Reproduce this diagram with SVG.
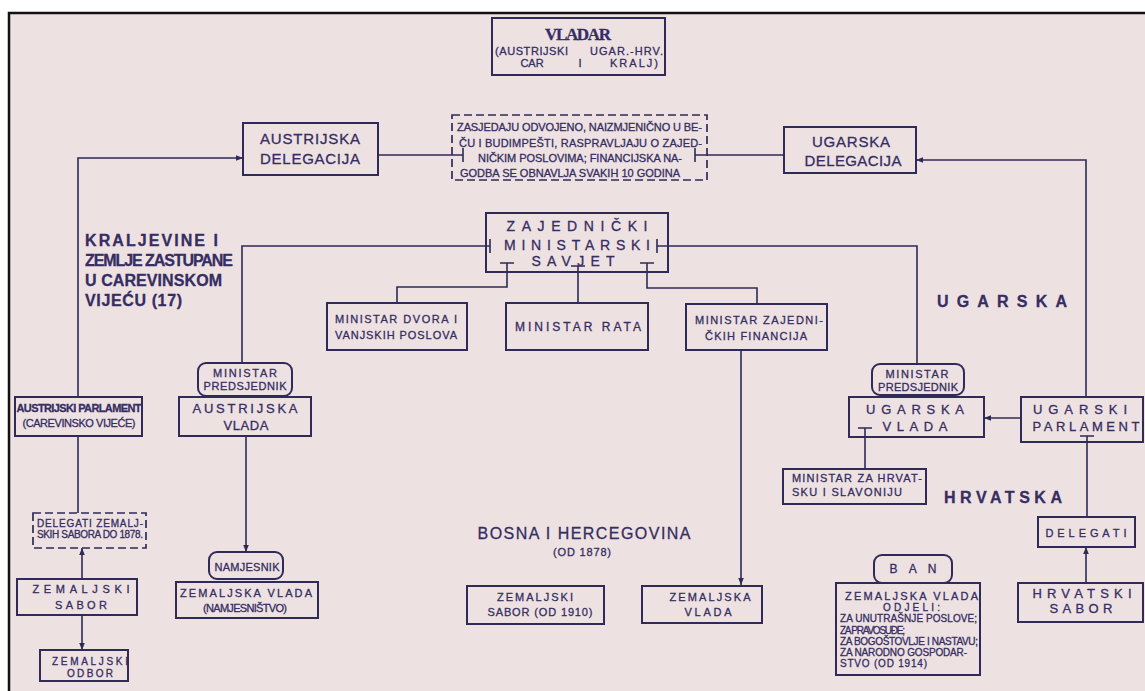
<svg xmlns="http://www.w3.org/2000/svg" width="1145" height="691" viewBox="0 0 1145 691">
<defs>
<marker id="ah" viewBox="0 0 10 10" refX="10" refY="5" markerWidth="7" markerHeight="7" orient="auto" markerUnits="userSpaceOnUse">
<path d="M0,1 L10,5 L0,9 Z" fill="#2f2a58"/>
</marker>
<style>
.bx{fill:none;stroke:#2f2a58;stroke-width:2}
.ds{fill:none;stroke:#2f2a58;stroke-width:1.7;stroke-dasharray:8 4}
.ln{fill:none;stroke:#2f2a58;stroke-width:1.6}
.ar{fill:none;stroke:#2f2a58;stroke-width:1.6;marker-end:url(#ah)}
text{font-family:"Liberation Sans","DejaVu Sans",sans-serif;fill:#352d63;stroke:#352d63;stroke-width:0.3;font-size:11px}
.c{text-anchor:middle}
.b15{font-size:15px}
.b13{font-size:13px}
.t10{font-size:10px}
.lbl{font-size:16px;font-weight:bold}
</style>
</defs>
<rect x="0" y="0" width="1145" height="691" fill="#ffffff"/>
<rect x="9" y="13" width="1136" height="678" fill="#ede2e1"/>
<path d="M9,691 V13 H1145" fill="none" stroke="#111" stroke-width="2.5"/>

<g id="connectors">
<path class="ar" d="M78,396 V158 H243"/>
<path class="ln" d="M378,155 H463 M463,148 V162"/>
<path class="ln" d="M695,155 H784 M695,148 V162"/>
<path class="ar" d="M1086,397 V160 H916"/>
<path class="ln" d="M490,246 H242 V363 M490,239 V253"/>
<path class="ln" d="M657,246 H917 V364 M657,239 V253"/>
<path class="ln" d="M507,263 V287 H397 V303 M500,263 H514"/>
<path class="ln" d="M578,266 V303 M571,266 H585"/>
<path class="ln" d="M647,263 V288 H757 V304 M640,263 H654"/>
<path class="ar" d="M741,350 V585"/>
<path class="ln" d="M78,436 V513"/>
<path class="ar" d="M82,579 V548"/>
<path class="ar" d="M82,615 V650"/>
<path class="ar" d="M246,436 V552"/>
<path class="ar" d="M1021,418 H984"/>
<path class="ln" d="M865,428 V469 M858,428 H872"/>
<path class="ln" d="M1087,436 V517 M1080,436 H1094"/>
<path class="ar" d="M1086,583 V547"/>
</g>

<g id="vladar">
<rect class="bx" x="492" y="18" width="173" height="57"/>
<text class="c" x="578" y="40" style="font-family:'Liberation Serif',serif;font-weight:bold;font-size:17px" textLength="66">VLADAR</text>
<text x="495" y="55" textLength="73">(AUSTRIJSKI</text>
<text class="c" x="532" y="67">CAR</text>
<text class="c" x="580" y="67">I</text>
<text x="590" y="55" textLength="73">UGAR.-HRV.</text>
<text x="610" y="67" textLength="48">KRALJ)</text>
</g>

<g id="zasjedanje">
<rect class="ds" x="452" y="115" width="255" height="65"/>
<text x="457" y="131" textLength="245">ZASJEDAJU ODVOJENO, NAIZMJENIČNO U BE-</text>
<text x="459" y="147" textLength="243">ČU I BUDIMPEŠTI, RASPRAVLJAJU O ZAJED-</text>
<text x="478" y="162" textLength="204">NIČKIM POSLOVIMA; FINANCIJSKA NA-</text>
<text x="460" y="177" textLength="220">GODBA SE OBNAVLJA SVAKIH 10 GODINA</text>
</g>

<g id="austrijska-delegacija">
<rect class="bx" x="243" y="123" width="135" height="52"/>
<text class="c b15" x="310" y="144" textLength="100">AUSTRIJSKA</text>
<text class="c b15" x="310" y="164" textLength="100">DELEGACIJA</text>
</g>

<g id="ugarska-delegacija">
<rect class="bx" x="784" y="127" width="132" height="46"/>
<text class="c b15" x="851" y="147" textLength="78">UGARSKA</text>
<text class="c b15" x="853" y="166" textLength="97">DELEGACIJA</text>
</g>

<g id="zajednicki-savjet">
<rect class="bx" x="486" y="213" width="182" height="59"/>
<text class="c" x="577" y="231" style="font-size:14px" textLength="141">ZAJEDNIČKI</text>
<text class="c" x="577" y="250" style="font-size:14px" textLength="146">MINISTARSKI</text>
<text class="c" x="573" y="266" style="font-size:14px" textLength="83">SAVJET</text>
</g>

<g id="ministar-dvora">
<rect class="bx" x="327" y="303" width="140" height="47"/>
<text class="c" x="396" y="323" textLength="122">MINISTAR DVORA I</text>
<text class="c" x="396" y="339" textLength="122">VANJSKIH POSLOVA</text>
</g>

<g id="ministar-rata">
<rect class="bx" x="506" y="303" width="142" height="47"/>
<text class="c" x="578" y="331" style="font-size:12px" textLength="126">MINISTAR RATA</text>
</g>

<g id="ministar-financija">
<rect class="bx" x="686" y="304" width="141" height="46"/>
<text class="c" x="759" y="324" textLength="128">MINISTAR ZAJEDNI-</text>
<text class="c" x="756" y="340" textLength="102">ČKIH FINANCIJA</text>
</g>

<g id="kraljevine-label">
<text x="85" y="246" style="font-size:16px;font-weight:bold" textLength="133">KRALJEVINE I</text>
<text x="85" y="266" style="font-size:16px;font-weight:bold" textLength="148">ZEMLJE ZASTUPANE</text>
<text x="85" y="286" style="font-size:16px;font-weight:bold" textLength="137">U CAREVINSKOM</text>
<text x="85" y="306" style="font-size:16px;font-weight:bold" textLength="97">VIJEĆU (17)</text>
</g>

<g id="ugarska-label">
<text x="937" y="307" class="lbl" textLength="130">UGARSKA</text>
</g>

<g id="hrvatska-label">
<text x="944" y="503" class="lbl" textLength="118">HRVATSKA</text>
</g>

<g id="bih-label">
<text class="c" x="584" y="539" style="font-size:16px" textLength="213">BOSNA I HERCEGOVINA</text>
<text class="c" x="582" y="556" textLength="58">(OD 1878)</text>
</g>

<g id="austrijski-parlament">
<rect class="bx" x="15" y="397" width="127" height="39"/>
<text class="c" x="79" y="412" style="font-weight:bold" textLength="125">AUSTRIJSKI PARLAMENT</text>
<text class="c" x="79" y="427" textLength="113">(CAREVINSKO VIJEĆE)</text>
</g>

<g id="delegati-zemaljskih">
<rect class="ds" x="33" y="513" width="113" height="35"/>
<text x="37" y="527" class="t10" textLength="106">DELEGATI ZEMALJ-</text>
<text x="37" y="538" class="t10" textLength="106">SKIH SABORA DO 1878.</text>
</g>

<g id="zemaljski-sabor-a">
<rect class="bx" x="17" y="579" width="120" height="36"/>
<text class="c" x="81" y="593" textLength="97">ZEMALJSKI</text>
<text class="c" x="81" y="609" textLength="52">SABOR</text>
</g>

<g id="zemaljski-odbor">
<rect class="bx" x="40" y="650" width="88" height="31"/>
<text class="c t10" x="90" y="665" textLength="76">ZEMALJSKI</text>
<text class="c t10" x="90" y="677" textLength="46">ODBOR</text>
</g>

<g id="ministar-predsjednik-a">
<rect class="bx" x="198" y="363" width="94" height="33" rx="8"/>
<text class="c" x="245" y="377" textLength="64">MINISTAR</text>
<text class="c" x="245" y="390" textLength="83">PREDSJEDNIK</text>
</g>

<g id="austrijska-vlada">
<rect class="bx" x="179" y="397" width="132" height="39"/>
<text class="c b13" x="245" y="413" textLength="105">AUSTRIJSKA</text>
<text class="c b13" x="246" y="430" textLength="45">VLADA</text>
</g>

<g id="namjesnik">
<rect class="bx" x="209" y="552" width="74" height="27" rx="8"/>
<text class="c" x="247" y="571" textLength="65">NAMJESNIK</text>
</g>

<g id="zemaljska-vlada-a">
<rect class="bx" x="176" y="582" width="142" height="36"/>
<text class="c" x="246" y="597" textLength="132">ZEMALJSKA VLADA</text>
<text class="c" x="245" y="612" textLength="84">(NAMJESNIŠTVO)</text>
</g>

<g id="zemaljski-sabor-bih">
<rect class="bx" x="467" y="586" width="137" height="38"/>
<text class="c" x="535" y="601" textLength="76">ZEMALJSKI</text>
<text class="c" x="540" y="616" textLength="105">SABOR (OD 1910)</text>
</g>

<g id="zemaljska-vlada-bih">
<rect class="bx" x="642" y="586" width="120" height="37"/>
<text class="c" x="710" y="601" textLength="81">ZEMALJSKA</text>
<text class="c" x="708" y="616" textLength="47">VLADA</text>
</g>

<g id="ministar-predsjednik-u">
<rect class="bx" x="872" y="364" width="92" height="31" rx="8"/>
<text class="c" x="917" y="378" textLength="63">MINISTAR</text>
<text class="c" x="918" y="391" textLength="80">PREDSJEDNIK</text>
</g>

<g id="ugarska-vlada">
<rect class="bx" x="849" y="397" width="135" height="40"/>
<text class="c b13" x="915" y="414" textLength="98">UGARSKA</text>
<text class="c b13" x="915" y="431" textLength="65">VLADA</text>
</g>

<g id="ugarski-parlament">
<rect class="bx" x="1021" y="397" width="122" height="45"/>
<text class="c b13" x="1080" y="414" textLength="94">UGARSKI</text>
<text class="c b13" x="1086" y="431" textLength="107">PARLAMENT</text>
</g>

<g id="ministar-hrvatska">
<rect class="bx" x="783" y="469" width="143" height="35"/>
<text x="792" y="482" textLength="130">MINISTAR ZA HRVAT-</text>
<text x="792" y="496" textLength="110">SKU I SLAVONIJU</text>
</g>

<g id="delegati">
<rect class="bx" x="1038" y="517" width="97" height="30"/>
<text class="c" x="1086" y="537" textLength="81">DELEGATI</text>
</g>

<g id="hrvatski-sabor">
<rect class="bx" x="1018" y="583" width="125" height="39"/>
<text class="c b13" x="1082" y="598" textLength="99">HRVATSKI</text>
<text class="c b13" x="1081" y="613" textLength="63">SABOR</text>
</g>

<g id="ban">
<rect class="bx" x="874" y="555" width="78" height="28" rx="8"/>
<text class="c" x="913" y="573" style="font-size:12px" textLength="47">BAN</text>
</g>

<g id="zemaljska-vlada-hr">
<rect class="bx" x="836" y="583" width="144" height="92"/>
<text x="845" y="600" textLength="133">ZEMALJSKA VLADA</text>
<text x="883" y="611" class="t10" textLength="57">ODJELI:</text>
<text x="840" y="622" class="t10" textLength="137">ZA UNUTRAŠNJE POSLOVE;</text>
<text x="840" y="634" class="t10" textLength="65">ZA PRAVOSUĐE;</text>
<text x="840" y="645" class="t10" textLength="138">ZA BOGOŠTOVLJE I NASTAVU;</text>
<text x="840" y="656" class="t10" textLength="127">ZA NARODNO GOSPODAR-</text>
<text x="840" y="667" class="t10" textLength="87">STVO (OD 1914)</text>
</g>
</svg>
